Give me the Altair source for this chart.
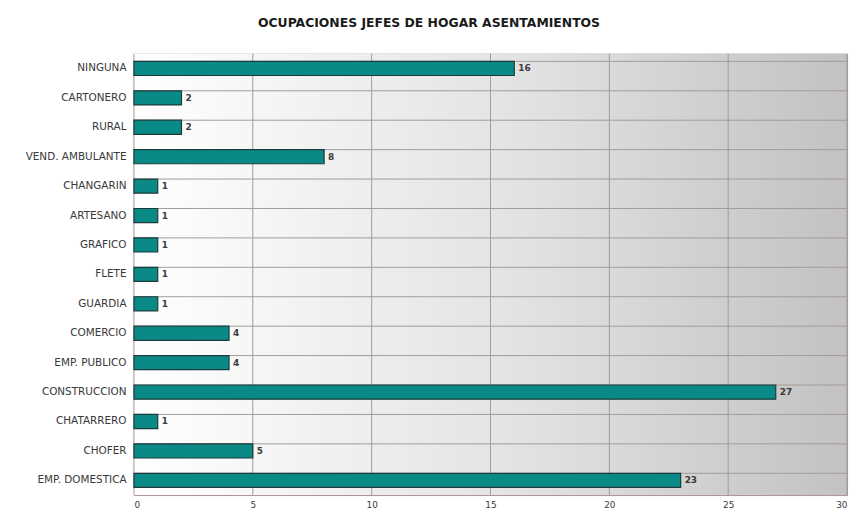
import altair as alt
import pandas as pd

categories = ["NINGUNA", "CARTONERO", "RURAL", "VEND. AMBULANTE", "CHANGARIN", "ARTESANO",
              "GRAFICO", "FLETE", "GUARDIA", "COMERCIO", "EMP. PUBLICO", "CONSTRUCCION",
              "CHATARRERO", "CHOFER", "EMP. DOMESTICA"]
values = [16, 2, 2, 8, 1, 1, 1, 1, 1, 4, 4, 27, 1, 5, 23]
x_ticks = [0, 5, 10, 15, 20, 25, 30]

df = pd.DataFrame({"cat": categories, "val": values})
ticks_df = pd.DataFrame({"t": x_ticks})

W, H = 719, 445
GRID = "#a39a9a"
FONT = "DejaVu Sans"
TXT = "#3a3a3a"

xscale = alt.Scale(domain=[0, 30], nice=False)
yscale = alt.Scale(domain=categories, paddingInner=0.52, paddingOuter=0.26)
xaxis = alt.Axis(values=x_ticks, grid=False, ticks=False, domain=False, labelPadding=6,
                 labelFont=FONT, labelFontSize=9, labelFontWeight="normal",
                 labelColor=TXT, title=None)
yaxis = alt.Axis(grid=False, ticks=False, domain=False, labelPadding=8,
                 labelFont=FONT, labelFontSize=10.5, labelFontWeight="normal",
                 labelColor=TXT, title=None)

bg = alt.Chart(pd.DataFrame({"a": [0], "b": [30]})).mark_rect(
    color=alt.Gradient(gradient="linear", x1=0, x2=1, y1=0, y2=0,
                       stops=[alt.GradientStop(color="#ffffff", offset=0),
                              alt.GradientStop(color="#e2e2e2", offset=0.55),
                              alt.GradientStop(color="#c2c2c2", offset=1)])
).encode(
    x=alt.X("a:Q", scale=xscale, axis=xaxis),
    x2="b:Q",
    y=alt.value(0), y2=alt.value(H)
)

vgrid = alt.Chart(ticks_df).mark_rule(color=GRID, strokeWidth=1).encode(
    x=alt.X("t:Q", scale=xscale, axis=xaxis))

hgrid = alt.Chart(df).mark_rule(color=GRID, strokeWidth=1).encode(
    y=alt.Y("cat:N", scale=yscale, bandPosition=0, axis=yaxis))

bars = alt.Chart(df).mark_bar(color="#0a8a86", stroke="#1d3b3a", strokeWidth=1.2).encode(
    x=alt.X("val:Q", scale=xscale, axis=xaxis),
    y=alt.Y("cat:N", scale=yscale, axis=yaxis))

labels = alt.Chart(df).mark_text(align="left", dx=4, font=FONT, fontSize=9,
                                 fontWeight="bold", color=TXT).encode(
    x=alt.X("val:Q", scale=xscale, axis=xaxis),
    y=alt.Y("cat:N", scale=yscale, axis=yaxis),
    text="val:Q")

chart = alt.layer(bg, vgrid, hgrid, bars, labels).properties(
    width=W, height=H,
    title=alt.Title("OCUPACIONES JEFES DE HOGAR ASENTAMIENTOS", font=FONT,
                    fontSize=12.5, fontWeight="bold", color="#1a1a1a", anchor="middle",
                    offset=24, dx=-62),
    padding={"left": 127, "top": 44, "right": 6, "bottom": 16},
    autosize=alt.AutoSizeParams(type="none")
).configure_view(stroke="#a89090", strokeWidth=1)

chart.save("out.html", embed_options={"renderer": "svg", "actions": False})
